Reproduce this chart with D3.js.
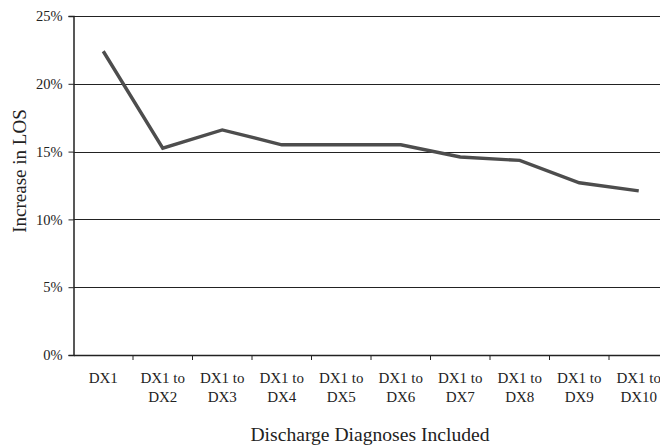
<!DOCTYPE html>
<html><head><meta charset="utf-8">
<script src="https://cdn.jsdelivr.net/npm/d3@7"></script>
<style>body{margin:0;background:#fff} svg text{font-family:"Liberation Serif","Times New Roman",Times,"DejaVu Serif",serif;}</style>
</head><body>
<svg id="c" width="660" height="448"></svg>
<script>
const categories = ["DX1","DX1 to|DX2","DX1 to|DX3","DX1 to|DX4","DX1 to|DX5","DX1 to|DX6","DX1 to|DX7","DX1 to|DX8","DX1 to|DX9","DX1 to|DX10"];
const values = [22.4, 15.25, 16.6, 15.5, 15.5, 15.5, 14.6, 14.35, 12.7, 12.1];
const yTicks = [0, 5, 10, 15, 20, 25];

(function(){
const svg = d3.select("#c");
const mL = 73.5, mR = 668.5, mT = 16, mB = 355;

const x = d3.scaleBand().domain(categories).range([mL, mR]);
const y = d3.scaleLinear().domain([0, 25]).range([mB, mT]);

// gridlines
svg.append("g").selectAll("line").data(yTicks.filter(d => d > 0)).join("line")
  .attr("x1", mL).attr("x2", mR)
  .attr("y1", d => Math.round(y(d)) + 0.5).attr("y2", d => Math.round(y(d)) + 0.5)
  .attr("stroke", "#222").attr("stroke-width", 1);

// y axis
const yAxis = svg.append("g").attr("transform", `translate(${mL},0)`)
  .call(d3.axisLeft(y).tickValues(yTicks).tickFormat(d => d + "%").tickSize(5).tickPadding(6));
yAxis.attr("font-family", null).attr("font-size", null);
yAxis.selectAll("text").attr("font-size", 14.5).attr("fill", "#222");
yAxis.selectAll("line,path").attr("stroke", "#222");
yAxis.select("path").attr("stroke-width", 1.5);

// x axis
const xAxis = svg.append("g").attr("transform", `translate(0,${mB})`)
  .call(d3.axisBottom(x).tickSize(0).tickFormat(""));
xAxis.attr("font-family", null);
xAxis.select("path").attr("stroke", "#222").attr("stroke-width", 1.5);
// band boundary ticks
svg.append("g").selectAll("line").data(categories).join("line")
  .attr("x1", d => x(d) + x.bandwidth()).attr("x2", d => x(d) + x.bandwidth())
  .attr("y1", mB).attr("y2", mB + 5).attr("stroke", "#222");

// x labels
const lbl = svg.append("g").selectAll("text").data(categories).join("text")
  .attr("x", d => x(d) + x.bandwidth() / 2)
  .attr("y", 383)
  .attr("text-anchor", "middle")
  .attr("font-size", 15).attr("fill", "#222");
lbl.each(function(d) {
  const parts = d.split("|");
  const t = d3.select(this);
  parts.forEach((p, i) => {
    t.append("tspan").attr("x", x(d) + x.bandwidth() / 2).attr("dy", i === 0 ? 0 : 19).text(p);
  });
});

// line
const line = d3.line()
  .x((d, i) => x(categories[i]) + x.bandwidth() / 2)
  .y(d => y(d));
svg.append("path").datum(values).attr("d", line)
  .attr("fill", "none").attr("stroke", "#4d4d4d").attr("stroke-width", 3.4)
  .attr("stroke-linejoin", "miter");

// titles
svg.append("text").attr("x", 370).attr("y", 441).attr("text-anchor", "middle")
  .attr("font-size", 19.6).attr("fill", "#222")
  .text("Discharge Diagnoses Included");
svg.append("text").attr("transform", "translate(26,171) rotate(-90)").attr("text-anchor", "middle")
  .attr("font-size", 19).attr("fill", "#222")
  .text("Increase in LOS");
})();
</script>
</body></html>
